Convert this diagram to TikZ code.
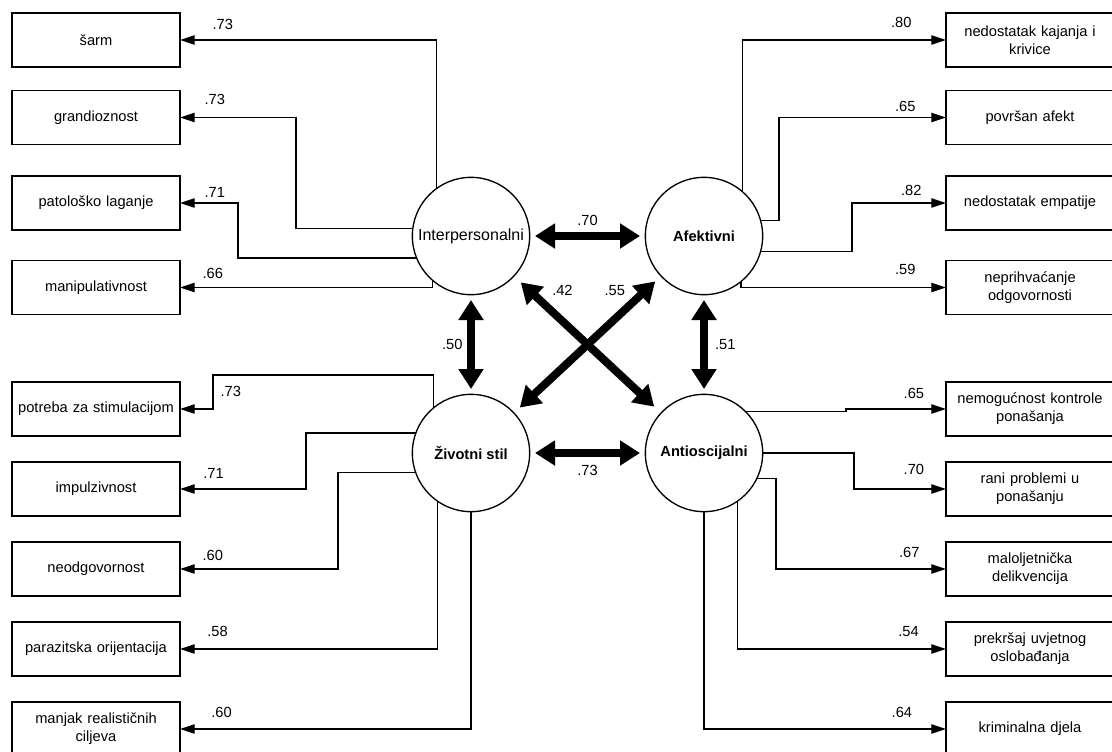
\documentclass[tikz,border=0pt]{standalone}
\usepackage{fontspec}
\setmainfont{Liberation Sans}
\usepackage{tikz}
\usetikzlibrary{calc}
\usetikzlibrary{arrows.meta}

\begin{document}
\begin{tikzpicture}[x=0.75pt,y=-0.75pt]
    \tikzstyle{indicator}=[draw,line width=1.1pt,text width=124pt,inner sep=1pt,minimum height=40.5pt,outer sep=0pt,align=center,font=\fontsize{11}{13.5}\selectfont]
    \tikzstyle{factor}=[draw,circle,line width=1pt,minimum size=88pt,inner sep=0pt,outer sep=0pt,font=\fontsize{11}{13}\selectfont]
    \tikzstyle{loading}=[-{Triangle[length=11pt,width=7pt]},line width=0.9pt,color=black]
    \tikzstyle{correlation}=[{Triangle[length=15pt,width=18pt]}-{Triangle[length=15pt,width=18pt]},line width=6pt,color=black]
    \tikzstyle{coef}=[black,inner sep=1pt,font=\fontsize{11}{13}\selectfont]
    \tikzstyle{coef left}=[coef,anchor=south west]
    \tikzstyle{coef right}=[coef,anchor=south east]

    \useasboundingbox (0,0) rectangle (1112,751);

    % Factors
    \node[factor] (inter) at (471,236) {\fontsize{12}{14}\selectfont Interpersonalni};
    \node[factor] (afek) at (704,236) {\textbf{Afektivni}};
    \node[factor] (zivot) at (471,453) {\textbf{Životni stil}};
    \node[factor] (antis) at (704,453) {\textbf{Antioscijalni}};

    % Left indicators
    \node[indicator] (sarm) at (96,40) {šarm};
    \node[indicator] (grand) at (96,117.5) {grandioznost};
    \node[indicator] (patol) at (96,203) {patološko laganje};
    \node[indicator] (manip) at (96,287.5) {manipulativnost};
    \node[indicator] (potreba) at (96,409) {potreba za stimulacijom};
    \node[indicator] (impulz) at (96,489) {impulzivnost};
    \node[indicator] (neodg) at (96,569) {neodgovornost};
    \node[indicator] (parazit) at (96,649) {parazitska orijentacija};
    \node[indicator] (manjak) at (96,729) {manjak realističnih\\ciljeva};

    % Right indicators
    \node[indicator] (kajanje) at (1030,40) {nedostatak kajanja i\\krivice};
    \node[indicator] (afekt) at (1030,117.5) {površan afekt};
    \node[indicator] (empat) at (1030,203) {nedostatak empatije};
    \node[indicator] (odgov) at (1030,287.5) {neprihvaćanje\\odgovornosti};
    \node[indicator] (kontrola) at (1030,409) {nemogućnost kontrole\\ponašanja};
    \node[indicator] (rani) at (1030,489) {rani problemi u\\ponašanju};
    \node[indicator] (malolj) at (1030,569) {maloljetnička\\delikvencija};
    \node[indicator] (prekrsaj) at (1030,649) {prekršaj uvjetnog\\oslobađanja};
    \node[indicator] (krimin) at (1030,729) {kriminalna djela};

    % Interpersonalni
    \draw[style=loading] (inter.126) |- (sarm.east) node[coef left,xshift=23pt,yshift=6.5pt] {.73};
    \draw[style=loading] (inter.173) -| ($(grand.east)+(116,0)$) -- (grand.east) node[coef left,xshift=17pt,yshift=8.5pt] {.73};
    \draw[style=loading] (inter.202) -| ($(patol.east)+(58,0)$) -- (patol.east) node[coef left,xshift=17pt,yshift=3pt] {.71};
    \draw[style=loading] (inter.229) |- (manip.east) node[coef left,xshift=15.5pt,yshift=5pt] {.66};

    % Afektivni
    \draw[style=loading] (afek.49) |- (kajanje.west) node[coef right,xshift=-24.5pt,yshift=7.5pt] {.80};
    \draw[style=loading] (afek.15) -| ($(afekt.west)+(-167,0)$) -- (afekt.west) node[coef right,xshift=-21.5pt,yshift=3pt] {.65};
    \draw[style=loading] (afek.345) -| ($(empat.west)+(-94,0)$) -- (empat.west) node[coef right,xshift=-17pt,yshift=4.25pt] {.82};
    \draw[style=loading] (afek.309) |- (odgov.west) node[coef right,xshift=-21.5pt,yshift=8pt] {.59};

    % Zivotni stil
    \draw[style=loading] (zivot.130) |- ($(potreba.east)+(33,-34)$) |- (potreba.east) node[coef left,xshift=29pt,yshift=7.5pt] {.73};
    \draw[style=loading] (zivot.160) -| ($(impulz.east)+(126,0)$) -- (impulz.east) node[coef left,xshift=16pt,yshift=6.5pt] {.71};
    \draw[style=loading] (zivot.199) -| ($(neodg.east)+(158,0)$) -- (neodg.east) node[coef left,xshift=15.5pt,yshift=4.7pt] {.60};
    \draw[style=loading] (zivot.235) |- (parazit.east) node[coef left,xshift=19pt,yshift=8pt] {.58};
    \draw[style=loading] (zivot.south) |- (manjak.east) node[coef left,xshift=22pt,yshift=7pt] {.60};

    % Antisocijalni
    \draw[style=loading] (antis.45) -| ($(kontrola.west)+(-100,0)$) -- (kontrola.west) node[coef right,xshift=-15pt,yshift=6.7pt] {.65};
    \draw[style=loading] (antis.east) -| ($(rani.west)+(-92,0)$) -- (rani.west) node[coef right,xshift=-15pt,yshift=9pt] {.70};
    \draw[style=loading] (antis.334) -| ($(malolj.west)+(-170,0)$) -- (malolj.west) node[coef right,xshift=-18.5pt,yshift=7pt] {.67};
    \draw[style=loading] (antis.305) |- (prekrsaj.west) node[coef right,xshift=-19pt,yshift=8pt] {.54};
    \draw[style=loading] (antis.south) |- (krimin.west) node[coef right,xshift=-24pt,yshift=7pt] {.64};

    % Correlations between factors
    \draw[style=correlation,shorten <=4pt,shorten >=4pt] (inter) -- node[coef,midway,yshift=12pt] {.70} (afek);
    \draw[style=correlation,shorten <=4pt,shorten >=4pt] (zivot) -- node[coef,midway,yshift=-12.75pt] {.73} (antis);
    \draw[style=correlation,shorten <=4pt,shorten >=4pt] (inter) -- node[coef,midway,xshift=-14pt] {.50} (zivot);
    \draw[style=correlation,shorten <=4pt,shorten >=4pt] (afek) -- node[coef,midway,xshift=16pt] {.51} (antis);
    \draw[style=correlation,shorten <=7pt,shorten >=7pt] (inter) -- node[coef,pos=0.23,xshift=11pt,yshift=13pt] {.42} (antis);
    \draw[style=correlation,shorten <=6pt,shorten >=6pt] (zivot) -- node[coef,pos=0.785,xshift=-11pt,yshift=11.5pt] {.55} (afek);

\end{tikzpicture}
\end{document}
